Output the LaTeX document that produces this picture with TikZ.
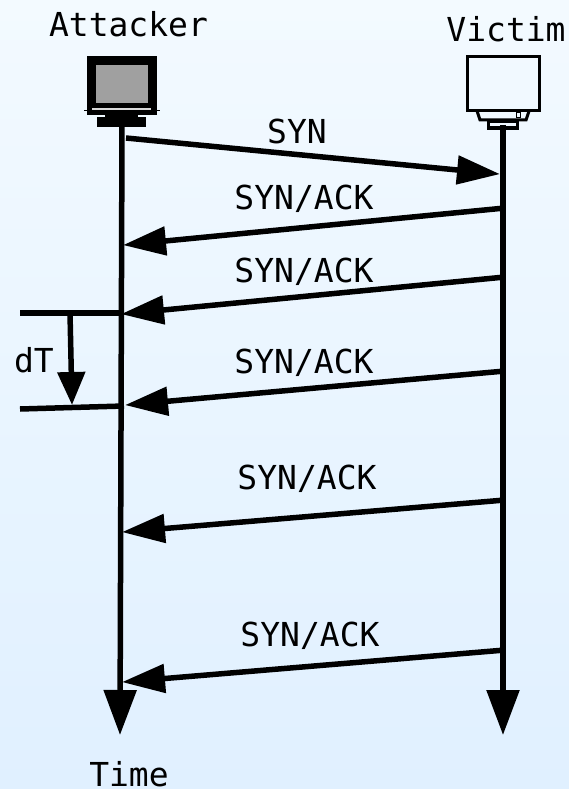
\documentclass[tikz,border=0pt]{standalone}
\usepackage{fontspec}
\setmonofont{DejaVu Sans Mono}
\usetikzlibrary{arrows.meta}
\definecolor{mytop}{RGB}{243, 250, 255}
\definecolor{mybottom}{RGB}{224, 240, 255}
\definecolor{mygrey}{RGB}{160, 160, 160}
\tikzset{>={Triangle[length=43pt,width=28pt]}}
\tikzset{msg/.style={line width=5.5pt,->,shorten >=-1pt}}
\tikzset{life/.style={line width=5.5pt,-{Triangle[length=45pt,width=32pt]}}}
\tikzset{mark line/.style={line width=5.5pt}}
\tikzset{lbl/.style={font=\fontsize{33}{33}\selectfont\ttfamily,inner sep=0pt,anchor=base}}

\begin{document}
\begin{tikzpicture}[x=1pt,y=-1pt]
\useasboundingbox (0,0) rectangle (569,789);
\shade[top color=mytop, bottom color=mybottom] (0,0) rectangle (569,789);

% attacker box
\fill (87,56) rectangle (157,115);
\fill[mygrey] (96,65) rectangle (148,103);
\fill[mygrey!40] (92,108) rectangle (151,110);
\draw[line width=0.8pt] (84,110.5) -- (160,110.5);
\fill (97,117) rectangle (146,127);
\fill (105,114) rectangle (138,118);

% victim box
\draw[line width=3pt] (477,111) -- (480,120) -- (526,120) -- (529,111);
\draw[line width=3pt] (467,57) rectangle (539,111);
\draw[line width=3pt] (488,122) rectangle (517,128);
\draw[line width=1pt] (516,113) rectangle (520,118);

% time lines
\coordinate (atop) at (122,125);
\coordinate (abot) at (120,735);
\coordinate (vtop) at (503,125);
\coordinate (vbot) at (503,735);
\draw[life] (atop) -- (abot);
\draw[life] (vtop) -- (vbot);

% messages
\coordinate (s0) at (126,138);
\coordinate (s1) at (499,174);
\draw[msg] (s0) -- (s1);
\foreach \n/\ya/\xb/\yb in {a/208/124/245, b/277/122/314, c/371/126/405, d/500/123/532, e/650/123/682}{
  \coordinate (\n0) at (505,\ya);
  \coordinate (\n1) at (\xb,\yb);
  \draw[msg] (\n0) -- (\n1);
}

% dT
\coordinate (m0) at (20,313);
\coordinate (m1) at (122,313);
\coordinate (n0) at (20,409);
\coordinate (n1) at (124,406);
\coordinate (t0) at (70,313);
\coordinate (t1) at (72,405);
\draw[mark line] (m0) -- (m1);
\draw[mark line] (n0) -- (n1);
\draw[line width=5.5pt,-{Triangle[length=33pt,width=27pt]}] (t0) -- (t1);

\node[lbl] (attacker) at (128.5,37) {Attacker};
\node[lbl] (victim) at (506,42) {Victim};
\node[lbl] (syn) at (297,143) {SYN};
\node[lbl] (ack1) at (304,209) {SYN/ACK};
\node[lbl] (ack2) at (304,282) {SYN/ACK};
\node[lbl] (ack3) at (304,373) {SYN/ACK};
\node[lbl] (ack4) at (307,489) {SYN/ACK};
\node[lbl] (ack5) at (310,646) {SYN/ACK};
\node[lbl] (dt) at (34,372) {dT};
\node[lbl] (time) at (129,786) {Time};
\end{tikzpicture}
\end{document}
